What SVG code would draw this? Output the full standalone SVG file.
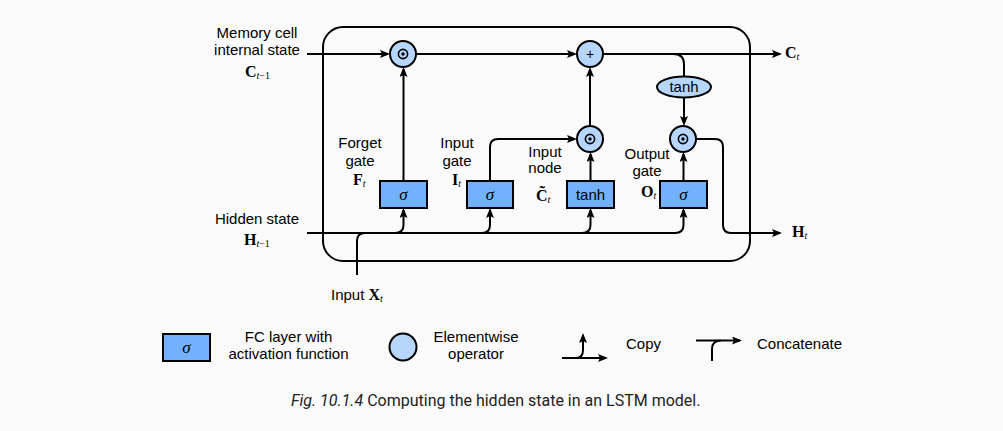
<svg xmlns="http://www.w3.org/2000/svg" width="1003" height="431" viewBox="0 0 1003 431">
<defs>
<style>
.lbl{font-family:"Liberation Sans",Arial,sans-serif;font-size:15px;fill:#000;text-anchor:middle}
.lbs{font-family:"Liberation Sans",Arial,sans-serif;font-size:15px;fill:#000}
.math{font-family:"Liberation Serif","Times New Roman",serif;font-weight:bold;font-size:16px;fill:#000}
.sub{font-style:italic;font-weight:normal;font-size:10px}
.subn{font-weight:normal;font-size:10px}
.box{fill:#72b2fc;stroke:#000;stroke-width:2}
.op{fill:#b6d6fd;stroke:#000;stroke-width:2}
.ring{fill:none;stroke:#000;stroke-width:1.6}
.wire{fill:none;stroke:#000;stroke-width:2}
.sig{font-family:"Liberation Serif","Times New Roman",serif;font-style:italic;font-size:17px;fill:#000;text-anchor:middle}
.cap{font-family:Roboto,"Liberation Sans",sans-serif;font-size:16px;fill:#222}
</style>
<marker id="ah" markerWidth="10" markerHeight="8" refX="8" refY="4" orient="auto" markerUnits="userSpaceOnUse">
<path d="M0,0 L10,4 L0,8 L2,4 z" fill="#000"/>
</marker>
<g id="dotop">
<circle r="4.6" class="ring"/>
<circle r="1.7" fill="#000"/>
</g>
</defs>
<rect width="1003" height="431" fill="#fafafa"/>

<rect id="cell" x="323" y="27" width="427" height="234" rx="20" fill="none" stroke="#000" stroke-width="2"/>

<g id="connectors" class="wire">
<path d="M307,54 H388" marker-end="url(#ah)"/>
<path d="M416,54 H575" marker-end="url(#ah)"/>
<path d="M603,54 H780" marker-end="url(#ah)"/>
<path d="M673,54 Q684,54 684,64 V76.5"/>
<path d="M684,97.5 V124" marker-end="url(#ah)"/>
<path d="M403.5,181 V69" marker-end="url(#ah)"/>
<path d="M490,181 V147 Q490,139 498,139 H575" marker-end="url(#ah)"/>
<path d="M590.5,181 V154" marker-end="url(#ah)"/>
<path d="M590,126 V69" marker-end="url(#ah)"/>
<path d="M683.5,181 V154" marker-end="url(#ah)"/>
<path d="M696,139 H715 Q723,139 723,147 V225 Q723,233 731,233 H780" marker-end="url(#ah)"/>
<path d="M307,233 H675 Q683.5,233 683.5,225 V210" marker-end="url(#ah)"/>
<path d="M357,275 V241 Q357,233 365,233"/>
<path d="M395,233 Q403.5,233 403.5,225 V210" marker-end="url(#ah)"/>
<path d="M482,233 Q490,233 490,225 V210" marker-end="url(#ah)"/>
<path d="M582,233 Q590.5,233 590.5,225 V210" marker-end="url(#ah)"/>
</g>

<g id="forget_mul">
<circle cx="403" cy="54" r="13" class="op"/>
<use href="#dotop" x="403" y="54"/>
</g>
<g id="add">
<circle cx="590" cy="54" r="13" class="op"/>
<text x="590" y="59" class="lbl" style="font-size:14px">+</text>
</g>
<g id="input_mul">
<circle cx="590" cy="139" r="13" class="op"/>
<use href="#dotop" x="590" y="139"/>
</g>
<g id="output_mul">
<circle cx="683" cy="139" r="13" class="op"/>
<use href="#dotop" x="683" y="139"/>
</g>
<g id="tanh_op">
<ellipse cx="684" cy="87" rx="27" ry="10.5" class="op"/>
<text x="684" y="92" class="lbl">tanh</text>
</g>
<g id="forget_gate">
<rect x="380" y="181" width="47" height="27" class="box"/>
<text x="403.5" y="200" class="sig">σ</text>
</g>
<g id="input_gate">
<rect x="467" y="181" width="46" height="27" class="box"/>
<text x="490" y="200" class="sig">σ</text>
</g>
<g id="input_node">
<rect x="567" y="181" width="47" height="27" class="box"/>
<text x="590.5" y="199.5" class="lbl">tanh</text>
</g>
<g id="output_gate">
<rect x="660" y="181" width="47" height="27" class="box"/>
<text x="683.5" y="200" class="sig">σ</text>
</g>

<g id="labels">
<text x="257" y="38" class="lbl">Memory cell</text>
<text x="257" y="55" class="lbl">internal state</text>
<text x="245" y="77" class="math">C<tspan class="sub" dy="2">t</tspan><tspan class="subn">−1</tspan></text>
<text x="360" y="148" class="lbl">Forget</text>
<text x="360" y="166" class="lbl">gate</text>
<text x="353" y="185" class="math">F<tspan class="sub" dy="2">t</tspan></text>
<text x="457" y="148" class="lbl">Input</text>
<text x="457" y="166" class="lbl">gate</text>
<text x="452" y="185" class="math">I<tspan class="sub" dy="2">t</tspan></text>
<text x="545" y="157" class="lbl">Input</text>
<text x="545" y="173" class="lbl">node</text>
<text x="536" y="201" class="math">C̃<tspan class="sub" dy="2">t</tspan></text>
<text x="647" y="159" class="lbl">Output</text>
<text x="647" y="176" class="lbl">gate</text>
<text x="641" y="197" class="math">O<tspan class="sub" dy="2">t</tspan></text>
<text x="257" y="224" class="lbl">Hidden state</text>
<text x="244" y="245" class="math">H<tspan class="sub" dy="2">t</tspan><tspan class="subn">−1</tspan></text>
<text x="331" y="300" class="lbs">Input <tspan class="math">X<tspan class="sub" dy="2">t</tspan></tspan></text>
<text x="785" y="58" class="math">C<tspan class="sub" dy="2">t</tspan></text>
<text x="792" y="237" class="math">H<tspan class="sub" dy="2">t</tspan></text>
</g>

<g id="legend">
<g id="legend_fc">
<rect x="163" y="334" width="47" height="27" class="box"/>
<text x="186.5" y="353" class="sig">σ</text>
<text x="288.5" y="342" class="lbl">FC layer with</text>
<text x="288.5" y="359" class="lbl">activation function</text>
</g>
<g id="legend_op">
<circle cx="403" cy="347" r="13.5" class="op"/>
<text x="476" y="342" class="lbl">Elementwise</text>
<text x="476" y="359" class="lbl">operator</text>
</g>
<g id="legend_copy">
<path d="M562,358 H606" class="wire" marker-end="url(#ah)"/>
<path d="M576,358 Q583,358 583,350 V335" class="wire" marker-end="url(#ah)"/>
<text x="626" y="349" class="lbs">Copy</text>
</g>
<g id="legend_concat">
<path d="M696,340.5 H740" class="wire" marker-end="url(#ah)"/>
<path d="M712,361 V349 Q712,340.5 721,340.5" class="wire"/>
<text x="757" y="349" class="lbs">Concatenate</text>
</g>
</g>

<text x="291" y="406" class="cap"><tspan font-style="italic">Fig. 10.1.4</tspan> Computing the hidden state in an LSTM model.</text>
</svg>
